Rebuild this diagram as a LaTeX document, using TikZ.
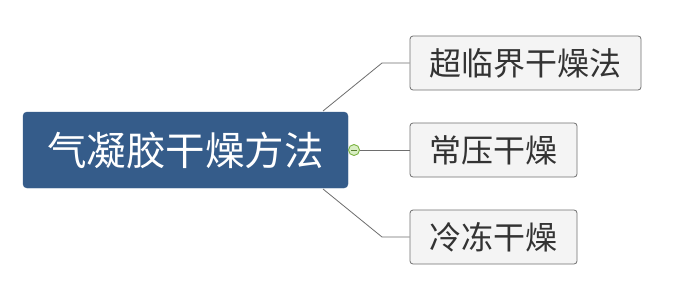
\documentclass[tikz,border=0pt]{standalone}
\usepackage{fontspec}
\usetikzlibrary{calc}
\newfontfamily\cjk{Noto Sans CJK SC}
\definecolor{mainblue}{HTML}{355C8A}
\definecolor{childfill}{HTML}{F4F4F4}
\definecolor{childborder}{HTML}{707070}
\definecolor{childtext}{HTML}{333333}
\definecolor{linegray}{HTML}{6E6E6E}
\definecolor{knobgreen}{HTML}{7CB342}
\definecolor{knobfill}{HTML}{D9EEC4}
\begin{document}
\begin{tikzpicture}[x=1pt,y=-1pt,
  mainbox/.style={fill=mainblue,draw=mainblue,rounded corners=4pt,minimum width=325pt,minimum height=76pt,inner sep=0pt,text=white,font=\cjk\fontsize{39.5}{42}\selectfont},
  childbox/.style={fill=childfill,draw=childborder,line width=0.8pt,rounded corners=3pt,minimum height=54pt,inner sep=0pt,text=childtext,font=\cjk\fontsize{32}{35}\selectfont},
  conn/.style={draw=linegray,line width=0.8pt}]
\useasboundingbox (0,0) rectangle (692,305);
\fill[white] (0,0) rectangle (692,305);
\node[mainbox] (main) at (185.5,150) {气凝胶干燥方法};
\node[childbox,minimum width=231pt] (c1) at (525.5,63) {超临界干燥法};
\node[childbox,minimum width=167pt] (c2) at (493.5,150) {常压干燥};
\node[childbox,minimum width=167pt] (c3) at (493.5,237) {冷冻干燥};
\coordinate (s1) at (323,111);
\coordinate (b1) at (382,63);
\coordinate (s3) at (323,189);
\coordinate (b3) at (382,237);
\node[circle,draw=knobgreen,fill=knobfill,line width=0.9pt,minimum size=11pt,inner sep=0pt] (knob) at (354,150) {};
\draw[conn] (s1) -- (b1) -- (c1.west);
\draw[conn] (knob.east) -- (c2.west);
\draw[conn] (s3) -- (b3) -- (c3.west);
\draw[knobgreen!70!black,line width=0.9pt] ($(knob.center)+(-3,0)$) -- ($(knob.center)+(3,0)$);
\end{tikzpicture}
\end{document}
